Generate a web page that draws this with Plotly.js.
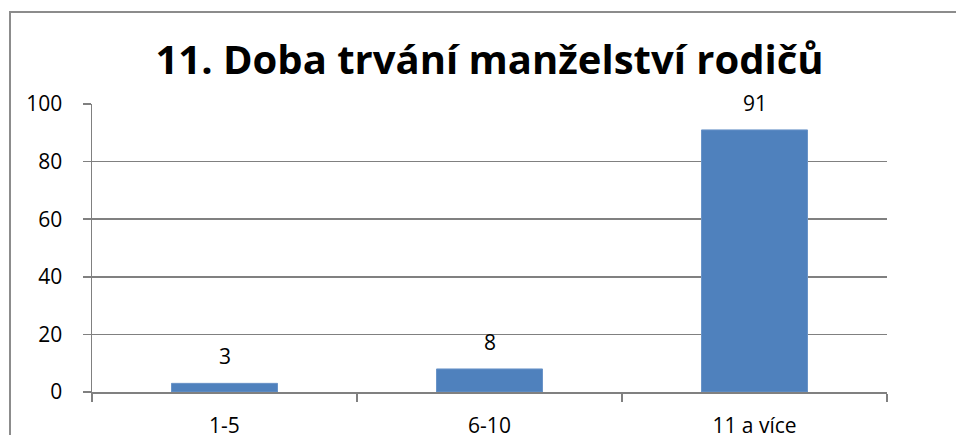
<!DOCTYPE html>
<html>
<head>
<meta charset="utf-8">
<script src="https://cdn.plot.ly/plotly-3.0.1.min.js"></script>
<style>
  html, body { margin: 0; padding: 0; background: #fff; }
  #wrap { position: relative; width: 956px; height: 435px; overflow: hidden; }
  #chart { width: 956px; height: 435px; }
  #frame { position: absolute; left: 9px; top: 11px; width: 980px; height: 460px;
           border-left: 2px solid #8c8c8c; border-top: 2px solid #8c8c8c; pointer-events: none; }
</style>
</head>
<body>
<div id="wrap">
  <div id="chart"></div>
  <div id="frame"></div>
</div>
<script>
const chartTitle = "11. Doba trvání manželství rodičů";
const categories = ["1-5", "6-10", "11 a více"];
const values = [3, 8, 91];
const yTicks = [0, 20, 40, 60, 80, 100];

const fontFam = "Open Sans, Lato, sans-serif";

const trace = {
  type: "bar",
  x: categories,
  y: values,
  marker: { color: "#4F81BD", line: { color: "#6A94C8", width: 1 } },
  hoverinfo: "none"
};

const annotations = categories.map((c, i) => ({
  x: c, y: values[i], xref: "x", yref: "y",
  text: String(values[i]), showarrow: false,
  yanchor: "middle", yshift: 27,
  font: { family: fontFam, size: 21, color: "#000" }
}));

const layout = {
  width: 956, height: 435,
  margin: { l: 92, r: 69, t: 104, b: 43 },
  paper_bgcolor: "#fff", plot_bgcolor: "#fff",
  showlegend: false,
  bargap: 0.6,
  title: {
    text: "<b>" + chartTitle + "</b>",
    font: { family: fontFam, size: 40, color: "#000" },
    x: 0.5, xref: "paper", xanchor: "center",
    y: 0.862, yref: "container", yanchor: "middle"
  },
  xaxis: {
    type: "category",
    showline: true, linecolor: "#808080", linewidth: 1.5,
    ticks: "outside", tickson: "boundaries", ticklen: 8, tickcolor: "#808080", tickwidth: 1.5,
    showgrid: false, zeroline: false,
    tickfont: { family: fontFam, size: 21, color: "#000" },
    ticklabelstandoff: 14,
    fixedrange: true
  },
  yaxis: {
    range: [0, 100],
    tickvals: yTicks,
    ticktext: yTicks.map(String),
    showline: true, linecolor: "#808080", linewidth: 1.5,
    ticks: "outside", ticklen: 8, tickcolor: "#808080", tickwidth: 1.5,
    showgrid: true, gridcolor: "#808080", gridwidth: 1.5,
    zeroline: false,
    tickfont: { family: fontFam, size: 21, color: "#000" },
    ticklabelstandoff: 16,
    fixedrange: true
  },
  annotations: annotations
};

Plotly.newPlot("chart", [trace], layout, { staticPlot: true, displayModeBar: false });
</script>
</body>
</html>
